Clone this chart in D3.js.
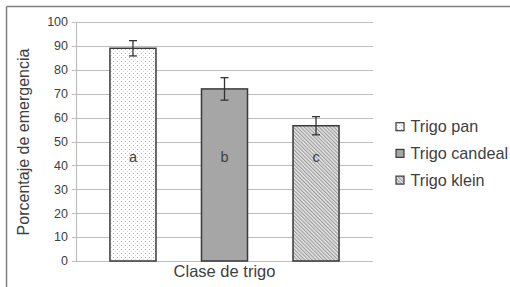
<!DOCTYPE html>
<html><head><meta charset="utf-8">
<script src="https://cdn.jsdelivr.net/npm/d3@7"></script>
<style>body{margin:0;background:#fff}svg{display:block;font-family:"Liberation Sans",Arial,sans-serif}</style>
</head><body>
<svg id="c" width="510" height="287"></svg>
<script>
const series = ["Trigo pan", "Trigo candeal", "Trigo klein"];
const values = [89, 72, 56.6];
const errors = [3.2, 4.7, 3.8];
const letters = ["a", "b", "c"];
const yTicks = [0,10,20,30,40,50,60,70,80,90,100];
const category = "Clase de trigo";
const yTitle = "Porcentaje de emergencia";

(function(){
const svg = d3.select("#c");
const defs = svg.append("defs");
const dots = defs.append("pattern").attr("id","dots").attr("patternUnits","userSpaceOnUse").attr("width",4).attr("height",4);
dots.append("rect").attr("width",4).attr("height",4).attr("fill","#fff");
dots.append("rect").attr("x",1).attr("y",1).attr("width",1).attr("height",1).attr("fill","#b0b0b0");
dots.append("rect").attr("x",3).attr("y",3).attr("width",1).attr("height",1).attr("fill","#d4d4d4");
const hatch = defs.append("pattern").attr("id","hatch").attr("patternUnits","userSpaceOnUse").attr("width",2.6).attr("height",2.6).attr("patternTransform","rotate(-45)");
hatch.append("rect").attr("width",2.6).attr("height",2.6).attr("fill","#e6e6e6");
hatch.append("rect").attr("x",0).attr("width",1.1).attr("height",2.6).attr("fill","#9a9a9a");
const fills = ["url(#dots)", "#a6a6a6", "url(#hatch)"];

svg.append("line").attr("x1",6.5).attr("x2",510).attr("y1",6.5).attr("y2",6.5).attr("stroke","#808080").attr("stroke-width",1.5);
svg.append("line").attr("x1",6.5).attr("x2",6.5).attr("y1",6.5).attr("y2",287).attr("stroke","#808080").attr("stroke-width",1.5);

const pl = 76, pr = 373, pt = 22, pb = 261;
const y = d3.scaleLinear().domain([0,100]).range([pb, pt]);
const x = d3.scaleBand().domain(series).range([pl, pr]).paddingInner(0.497).paddingOuter(0.371);

svg.append("g").selectAll("line").data(yTicks).join("line")
  .attr("x1", pl - 4).attr("x2", pr).attr("y1", d=>Math.round(y(d))+0.5).attr("y2", d=>Math.round(y(d))+0.5)
  .attr("stroke","#bdbdbd").attr("stroke-width",1.2);
svg.append("line").attr("x1",pl+0.5).attr("x2",pl+0.5).attr("y1",pt).attr("y2",pb+0.5).attr("stroke","#bdbdbd").attr("stroke-width",1.2);

svg.append("g").selectAll("text").data(yTicks).join("text")
  .attr("x", pl - 8).attr("y", d=>y(d)).attr("dy","0.35em").attr("text-anchor","end")
  .attr("font-size",12.5).attr("fill","#404040").text(d=>d);

svg.append("g").selectAll("rect").data(series).join("rect")
  .attr("x", d=>x(d)).attr("y", (d,i)=>y(values[i])).attr("width", x.bandwidth()).attr("height",(d,i)=>y(0)-y(values[i]))
  .attr("fill",(d,i)=>fills[i]).attr("stroke","#3a3a3a").attr("stroke-width",1.5);

const eg = svg.append("g").attr("stroke","#333").attr("stroke-width",1.3);
series.forEach((s,i)=>{
  const cx = x(s) + x.bandwidth()/2;
  eg.append("line").attr("x1",cx).attr("x2",cx).attr("y1",y(values[i]+errors[i])).attr("y2",y(values[i]-errors[i]));
  [values[i]+errors[i], values[i]-errors[i]].forEach(v=>{
    eg.append("line").attr("x1",cx-4).attr("x2",cx+4).attr("y1",y(v)).attr("y2",y(v));
  });
});

svg.append("g").selectAll("text").data(series).join("text")
  .attr("x", d=>x(d)+x.bandwidth()/2).attr("y", y(43.5)).attr("dy","0.35em").attr("text-anchor","middle")
  .attr("font-size",14.5).attr("fill","#404040").text((d,i)=>letters[i]);

svg.append("text").attr("x",(pl+pr)/2).attr("y",271.5).attr("dy","0.35em").attr("text-anchor","middle")
  .attr("font-size",16.5).attr("fill","#404040").text(category);

svg.append("text").attr("transform",`translate(23,142) rotate(-90)`).attr("dy","0.35em").attr("text-anchor","middle")
  .attr("font-size",16).attr("fill","#404040").text(yTitle);

const lg = svg.append("g");
series.forEach((s,i)=>{
  const cy = 126.7 + i*26.7;
  lg.append("rect").attr("x",396).attr("y",cy-4).attr("width",8).attr("height",8).attr("fill",fills[i]).attr("stroke","#3a3a3a").attr("stroke-width",1.2);
  lg.append("text").attr("x",410.5).attr("y",cy).attr("dy","0.35em").attr("font-size",16.2).attr("fill","#404040").text(s);
});
})();
</script>
</body></html>
